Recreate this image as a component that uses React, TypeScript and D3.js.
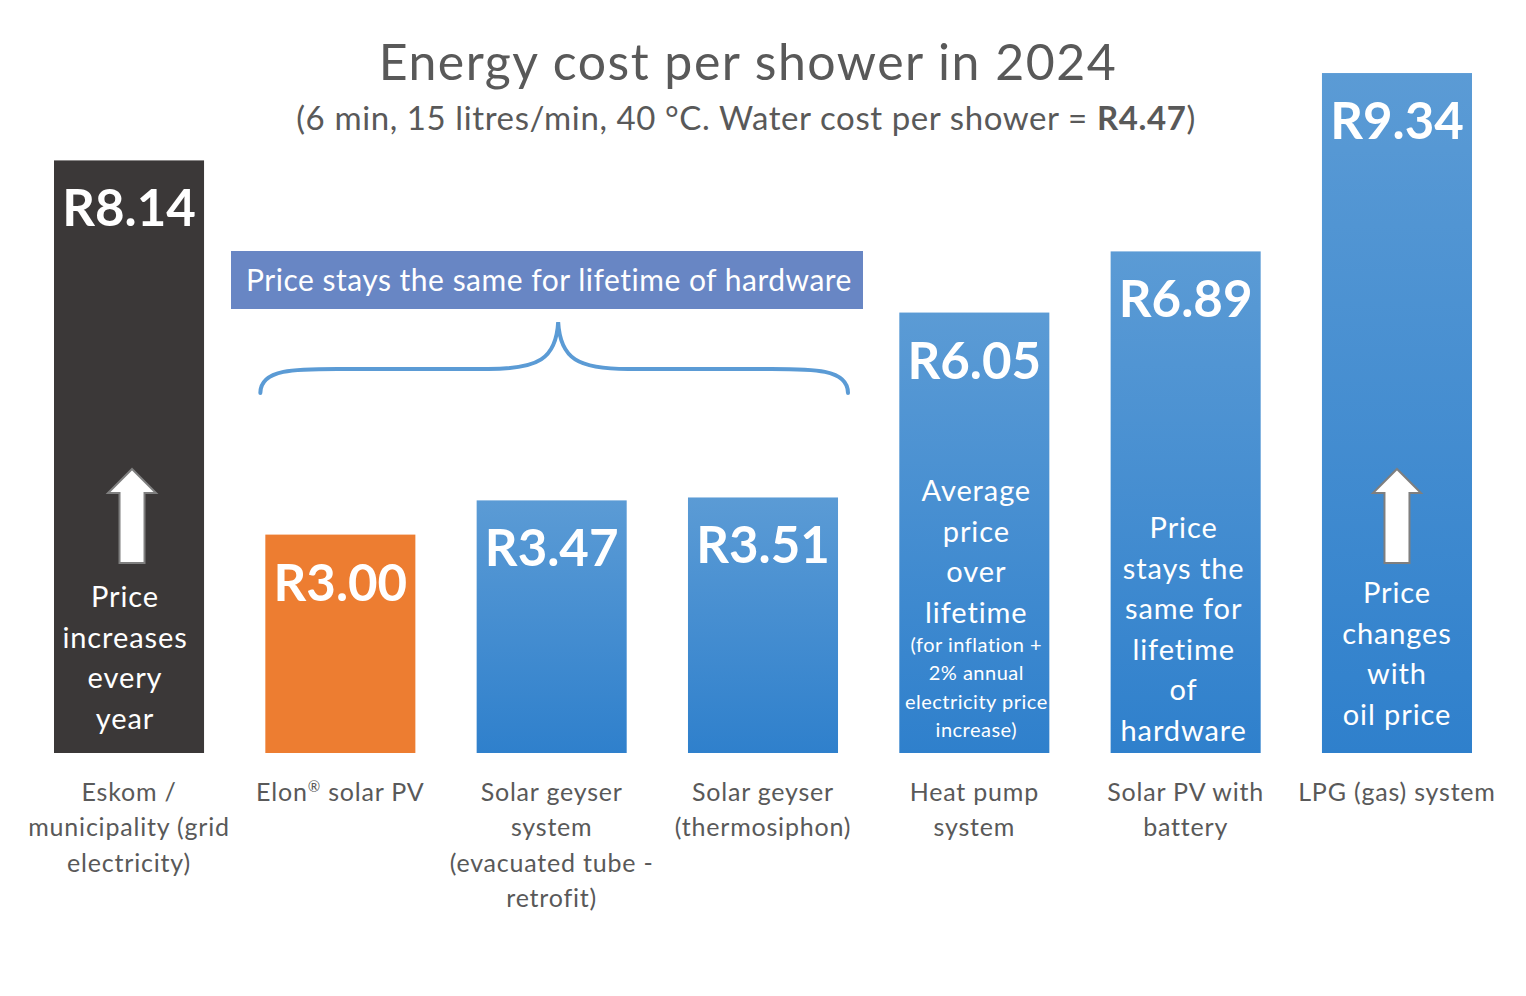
import * as d3 from 'd3';

// ---- data ----
const categoryIds = ['grid', 'elon', 'evac', 'thermo', 'heatpump', 'pvbatt', 'lpg'];
const categoryLabels = [
  ['Eskom /', 'municipality (grid', 'electricity)'],
  ['Elon® solar PV'],
  ['Solar geyser', 'system', '(evacuated tube -', 'retrofit)'],
  ['Solar geyser', '(thermosiphon)'],
  ['Heat pump', 'system'],
  ['Solar PV with', 'battery'],
  ['LPG (gas) system'],
];
const costPerShower = [8.14, 3.0, 3.47, 3.51, 6.05, 6.89, 9.34];
const valueLabels = ['R8.14', 'R3.00', 'R3.47', 'R3.51', 'R6.05', 'R6.89', 'R9.34'];

const title = 'Energy cost per shower in 2024';
const subtitle = '(6 min, 15 litres/min, 40 °C. Water cost per shower = ';
const waterCost = 'R4.47';
const bannerText = 'Price stays the same for lifetime of hardware';
const bracedIds = ['elon', 'evac', 'thermo'];

// notes inside bars
const gridNote = ['Price', 'increases', 'every', 'year'];
const heatPumpNote = ['Average', 'price', 'over', 'lifetime'];
const heatPumpSmall = ['(for inflation +', '2% annual', 'electricity price', 'increase)'];
const pvBattNote = ['Price', 'stays the', 'same for', 'lifetime', 'of', 'hardware'];
const lpgNote = ['Price', 'changes', 'with', 'oil price'];

const W = 1526;
const H = 996;
const FONT = 'Lato, "Open Sans", sans-serif';
const GREY = '#595959';

export default function App() {
  const x = d3.scaleBand<string>().domain(categoryIds).range([54, 1472]).paddingInner(0.29);
  const y = d3.scaleLinear().domain([0, 10]).range([753, 25]);
  const bw = x.bandwidth();
  const cx = (id: string) => (x(id) as number) + bw / 2;

  const fillFor = (id: string) =>
    id === 'grid' ? '#3b3838' : id === 'elon' ? '#ed7d31' : 'url(#blueGrad)';

  // brace under banner
  const bx0 = cx(bracedIds[0]) - 80;
  const bx1 = cx(bracedIds[bracedIds.length - 1]) + 85;
  const bm = (bx0 + bx1) / 2 + 4;
  const braceBottom = 393;
  const braceMid = 369;
  const braceTop = 322;
  const brace = d3.path();
  brace.moveTo(bx0, braceBottom);
  brace.bezierCurveTo(bx0, braceMid - 2, bx0 + 40, braceMid, bx0 + 90, braceMid);
  brace.lineTo(bm - 70, braceMid);
  brace.bezierCurveTo(bm - 20, braceMid, bm - 2, braceMid - 10, bm, braceTop);
  brace.bezierCurveTo(bm + 2, braceMid - 10, bm + 20, braceMid, bm + 70, braceMid);
  brace.lineTo(bx1 - 90, braceMid);
  brace.bezierCurveTo(bx1 - 40, braceMid, bx1, braceMid - 2, bx1, braceBottom);

  const arrow = (xc: number) => {
    const p = d3.path();
    p.moveTo(xc, 469);
    p.lineTo(xc + 24, 493);
    p.lineTo(xc + 12.5, 493);
    p.lineTo(xc + 12.5, 563);
    p.lineTo(xc - 12.5, 563);
    p.lineTo(xc - 12.5, 493);
    p.lineTo(xc - 24, 493);
    p.closePath();
    return p.toString();
  };

  const noteLines = (id: string, lines: string[], firstBaseline: number, step: number,
    size: number, spacing: number, dx = 0) =>
    lines.map((t, i) => (
      <text key={id + i} x={cx(id) + dx} y={firstBaseline + i * step} textAnchor="middle"
        fontSize={size} letterSpacing={spacing} fill="#fff" fontFamily={FONT}>{t}</text>
    ));

  return (
    <svg width={W} height={H} style={{ position: 'absolute', left: 0, top: 0, display: 'block', background: '#fff' }}>
      <defs>
        <linearGradient id="blueGrad" x1="0" y1="0" x2="0" y2="1">
          <stop offset="0" stopColor="#5b9bd5" />
          <stop offset="1" stopColor="#2f80cc" />
        </linearGradient>
      </defs>

      <text x={748} y={80} textAnchor="middle" fontSize={50} letterSpacing={1.5} fill={GREY} fontFamily={FONT}>{title}</text>
      <text x={746} y={130} textAnchor="middle" fontSize={33} letterSpacing={0.6} fill={GREY} fontFamily={FONT}>
        {subtitle}<tspan fontWeight="bold">{waterCost}</tspan>)
      </text>

      {categoryIds.map((id, i) => (
        <rect key={id} x={x(id)} y={y(costPerShower[i])} width={bw}
          height={y(0) - y(costPerShower[i])} fill={fillFor(id)} />
      ))}

      {categoryIds.map((id, i) => (
        <text key={'v' + id} x={cx(id)} y={y(costPerShower[i]) + 66} textAnchor="middle"
          fontSize={51} fontWeight="bold" fill="#fff" fontFamily={FONT}>{valueLabels[i]}</text>
      ))}

      <path d={arrow(cx('grid') + 3)} fill="#fff" stroke="#7f7f7f" strokeWidth={2} />
      <path d={arrow(cx('lpg'))} fill="#fff" stroke="#7f7f7f" strokeWidth={2} />

      {noteLines('grid', gridNote, 607, 40.7, 29, 0.9, -4)}
      {noteLines('heatpump', heatPumpNote, 501, 40.5, 29, 0.9, 2)}
      {noteLines('heatpump', heatPumpSmall, 652, 28.3, 20, 0.5, 2)}
      {noteLines('pvbatt', pvBattNote, 538, 40.6, 29, 0.9, -2)}
      {noteLines('lpg', lpgNote, 603, 40.7, 29, 0.9)}

      <rect x={231} y={251} width={632} height={58} fill="#6886c4" />
      <text x={549} y={291} textAnchor="middle" fontSize={30} letterSpacing={0.5} fill="#fff" fontFamily={FONT}>{bannerText}</text>
      <path d={brace.toString()} fill="none" stroke="#5b9bd5" strokeWidth={4} strokeLinecap="round" />

      {categoryIds.map((id, i) => (
        <text key={'c' + id} textAnchor="middle" fontSize={25} letterSpacing={0.8} fill={GREY} fontFamily={FONT}>
          {categoryLabels[i].map((line, j) => {
            const parts = line.split('®');
            return (
              <tspan key={j} x={cx(id)} y={801 + j * 35.3}>
                {parts[0]}
                {parts.length > 1 && <tspan fontSize={15} dy={-9}>®</tspan>}
                {parts.length > 1 && <tspan dy={9}>{parts[1]}</tspan>}
              </tspan>
            );
          })}
        </text>
      ))}
    </svg>
  );
}
